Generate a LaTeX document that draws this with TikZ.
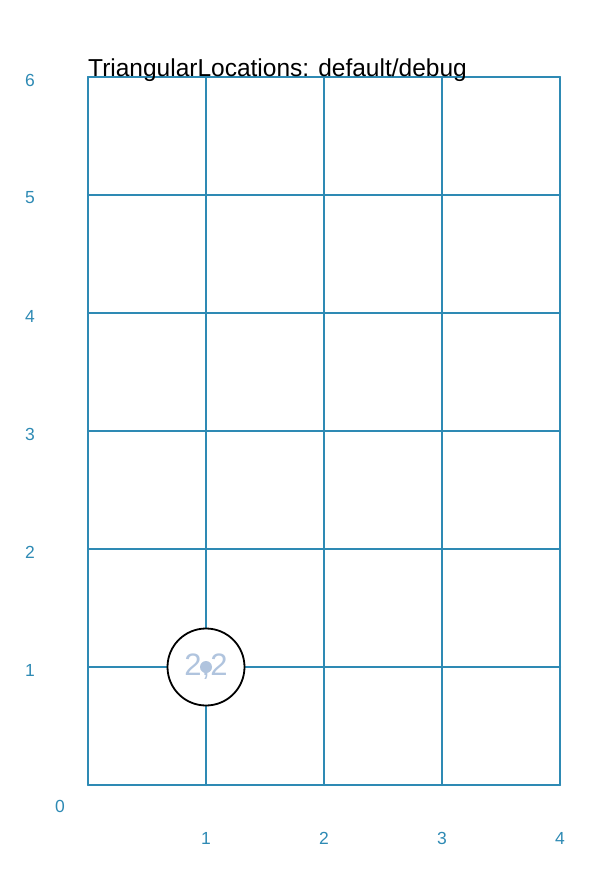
\documentclass[tikz,border=0pt]{standalone}
\usepackage{fontspec}
\setmainfont{Liberation Sans}
\definecolor{gridc}{RGB}{46,138,180}
\definecolor{locc}{RGB}{176,196,222}
\begin{document}
\begin{tikzpicture}[x=1pt,y=-1pt,
  gridline/.style={draw=gridc,line width=2pt,line cap=round,line join=round},
  axlab/.style={text=gridc,font=\fontsize{17.5}{17.5}\selectfont,inner sep=0pt,anchor=center},
  loc/.style={circle,draw=black,line width=1.8pt,minimum size=77pt,inner sep=0pt,text=locc,font=\fontsize{31}{31}\selectfont}]
\useasboundingbox (0,0) rectangle (615,875);
% grid
\foreach \i in {0,...,4} {\draw[gridline] (88+118*\i,77) -- (88+118*\i,785);}
\foreach \j in {0,...,6} {\draw[gridline] (88,785-118*\j) -- (560,785-118*\j);}
% axis labels
\foreach \j in {1,...,6} {\node[axlab] (y\j) at (30,785+3-118*\j) {\j};}
\foreach \i in {1,...,4} {\node[axlab] (x\i) at (88+118*\i,838) {\i};}
\node[axlab] (zero) at (60,806) {0};
% title
\node[anchor=base west,inner sep=0pt,font=\fontsize{24.5}{24.5}\selectfont] (title) at (88,76) {TriangularLocations: default/debug};
% location
\node[loc,fill=white] (c22) at (206,667) {2,2};
\fill[locc] (c22.center) circle (6pt);
\end{tikzpicture}
\end{document}
